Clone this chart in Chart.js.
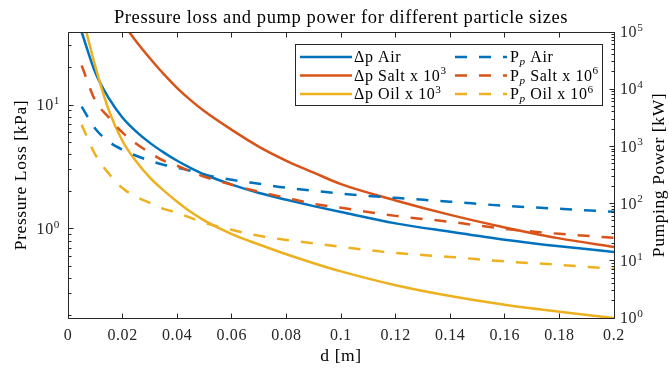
<!DOCTYPE html>
<html>
<head>
<meta charset="utf-8">
<script src="https://cdn.jsdelivr.net/npm/chart.js@4.4.1/dist/chart.umd.min.js"></script>
<style>
  html, body { margin: 0; padding: 0; background: #fff; }
  #wrap { width: 669px; height: 370px; }
</style>
</head>
<body>
<div id="wrap"><canvas id="chart" width="669" height="370"></canvas></div>
<script>
// particle diameter d [m]
const diameters = [0.005, 0.01, 0.015, 0.02, 0.025, 0.03, 0.035, 0.04, 0.045, 0.05,
                   0.06, 0.07, 0.08, 0.09, 0.1, 0.12, 0.14, 0.16, 0.18, 0.2];

// pressure loss [kPa], left axis
const dpAir  = [38.8, 18.3, 11.3, 7.9, 6.1, 4.95, 4.15, 3.55, 3.1, 2.75,
                2.28, 1.95, 1.72, 1.53, 1.37, 1.11, 0.95, 0.82, 0.725, 0.653];
const dpSalt = [null, null, null, 46, 32.5, 23.8, 17.8, 13.7, 10.9, 8.9,
                6.3, 4.6, 3.55, 2.85, 2.3, 1.7, 1.3, 1.03, 0.84, 0.716];
const dpOil  = [55, 20.5, 9.0, 5.1, 3.5, 2.6, 2.05, 1.66, 1.37, 1.17,
                0.91, 0.75, 0.625, 0.53, 0.455, 0.352, 0.288, 0.245, 0.215, 0.1915];

// pumping power [kW], right axis
const ppAir  = [4950, 2040, 1210, 875, 687, 562, 478, 424, 375, 319,
                261, 222, 189, 168, 149, 126, 108, 91.5, 81, 71.8];
const ppSalt = [25900, 6310, 3180, 1740, 1115, 776, 562, 459, 361, 295,
                213, 161, 126, 99, 84.4, 61, 48, 36.2, 29.6, 25.2];
const ppOil  = [2400, 716, 333, 185, 132, 103, 81, 69, 56.4, 46.1,
                34.8, 27.3, 23.2, 20.2, 17.5, 13.7, 11.7, 9.75, 8.5, 7.2];

const serif = "'Liberation Serif', 'DejaVu Serif', serif";
const ink = '#262626';
const BLUE = '#0072BD', ORANGE = '#D95319', YELLOW = '#EDB120';
const DASH = [12, 12];

function series(values) {
  return diameters.map((d, i) => ({ x: d, y: values[i] }));
}

function line(label, values, color, axis, dashed, order) {
  return {
    label: label,
    data: series(values),
    borderColor: color,
    backgroundColor: color,
    borderWidth: 2.5,
    borderDash: dashed ? DASH : [],
    borderCapStyle: 'butt',
    cubicInterpolationMode: 'monotone',
    pointRadius: 0,
    fill: false,
    clip: 0,
    yAxisID: axis,
    order: order
  };
}

// legend text pieces: [text, 'sup' | 'sub' | '']
const legendRuns = [
  [['Δp Air', '']],
  [['Δp Salt x 10', ''], ['3', 'sup']],
  [['Δp Oil x 10', ''], ['3', 'sup']],
  [['P', ''], ['p', 'sub'], [' Air', '']],
  [['P', ''], ['p', 'sub'], [' Salt x 10', ''], ['6', 'sup']],
  [['P', ''], ['p', 'sub'], [' Oil x 10', ''], ['6', 'sup']]
];

function drawRuns(ctx, runs, x, baseline, size) {
  for (const [text, kind] of runs) {
    let fs = size, dy = 0, style = '';
    if (kind === 'sup') { fs = size * 0.7; dy = -size * 0.4; }
    if (kind === 'sub') { fs = size * 0.7; dy = size * 0.17; style = 'italic '; }
    ctx.font = `${style}${fs}px ${serif}`;
    ctx.fillText(text, x, baseline + dy);
    x += ctx.measureText(text).width;
  }
  return x;
}

function logMarks(min, max) {
  const marks = [];
  for (let k = Math.floor(Math.log10(min)); k <= Math.ceil(Math.log10(max)); k++) {
    for (let m = 1; m <= 9; m++) {
      const v = m * Math.pow(10, k);
      if (v >= min * 0.999 && v <= max * 1.001) marks.push({ v: v, major: m === 1, exp: k });
    }
  }
  return marks;
}

function drawPower(ctx, exp, x, y, align) {
  const size = 16;
  ctx.font = `${size}px ${serif}`;
  const wBase = ctx.measureText('10').width;
  ctx.font = `${size * 0.7}px ${serif}`;
  const wExp = ctx.measureText(String(exp)).width;
  const x0 = align === 'right' ? x - wBase - wExp : x;
  const base = y + size * 0.33;
  ctx.textAlign = 'left';
  ctx.textBaseline = 'alphabetic';
  ctx.font = `${size}px ${serif}`;
  ctx.fillText('10', x0, base);
  ctx.font = `${size * 0.7}px ${serif}`;
  ctx.fillText(String(exp), x0 + wBase, base - size * 0.4);
}

const crisp = v => Math.floor(v) + 0.5;

// slightly looser text spacing for every label on the canvas
const textSpacing = {
  id: 'textSpacing',
  beforeDraw(chart) {
    chart.ctx.letterSpacing = '0.6px';
  }
};

// box, inward ticks, log labels, axis titles and legend
const axesFrame = {
  id: 'axesFrame',
  afterDraw(chart) {
    const { ctx, chartArea: a } = chart;
    const { x, yLoss, yPower } = chart.scales;
    const L = crisp(a.left), R = crisp(a.right), T = crisp(a.top), B = crisp(a.bottom);

    ctx.save();
    ctx.strokeStyle = ink;
    ctx.lineWidth = 1;
    ctx.setLineDash([]);
    ctx.beginPath();
    ctx.rect(L, T, R - L, B - T);

    x.ticks.forEach(t => {
      const px = crisp(x.getPixelForValue(t.value));
      ctx.moveTo(px, B); ctx.lineTo(px, B - 5);
      ctx.moveTo(px, T); ctx.lineTo(px, T + 5);
    });
    logMarks(yLoss.min, yLoss.max).forEach(m => {
      const py = crisp(yLoss.getPixelForValue(m.v));
      ctx.moveTo(L, py); ctx.lineTo(L + (m.major ? 5 : 3), py);
    });
    logMarks(yPower.min, yPower.max).forEach(m => {
      const py = crisp(yPower.getPixelForValue(m.v));
      ctx.moveTo(R, py); ctx.lineTo(R - (m.major ? 5 : 3), py);
    });
    ctx.stroke();

    ctx.fillStyle = ink;
    logMarks(yLoss.min, yLoss.max).filter(m => m.major).forEach(m => {
      drawPower(ctx, m.exp, a.left - 8, yLoss.getPixelForValue(m.v), 'right');
    });
    logMarks(yPower.min, yPower.max).filter(m => m.major).forEach(m => {
      drawPower(ctx, m.exp, a.right + 6, yPower.getPixelForValue(m.v), 'left');
    });

    // axis titles
    const midY = (a.top + a.bottom) / 2;
    ctx.fillStyle = '#000';
    ctx.font = `17.5px ${serif}`;
    ctx.textAlign = 'center';
    ctx.textBaseline = 'middle';
    ctx.fillText('d [m]', (a.left + a.right) / 2, 356);
    ctx.save();
    ctx.translate(21, midY);
    ctx.rotate(-Math.PI / 2);
    ctx.fillText('Pressure Loss [kPa]', 0, 0);
    ctx.restore();
    ctx.save();
    ctx.translate(659, midY);
    ctx.rotate(-Math.PI / 2);
    ctx.fillText('Pumping Power [kW]', 0, 0);
    ctx.restore();

    // legend, two columns of three
    const box = { x: 295.5, y: 44.5, w: 307, h: 61 };
    ctx.fillStyle = '#fff';
    ctx.fillRect(box.x, box.y, box.w, box.h);
    ctx.strokeStyle = ink;
    ctx.strokeRect(box.x, box.y, box.w, box.h);
    const rows = [57, 75.5, 94];
    const cols = [{ x0: 300, x1: 352, tx: 354 }, { x0: 455, x1: 507, tx: 510 }];
    chart.data.datasets.forEach((ds, i) => {
      const col = cols[Math.floor(i / 3)];
      const y = rows[i % 3];
      ctx.strokeStyle = ds.borderColor;
      ctx.lineWidth = ds.borderWidth;
      ctx.lineCap = 'butt';
      ctx.setLineDash(ds.borderDash);
      ctx.beginPath();
      ctx.moveTo(col.x0, y);
      ctx.lineTo(col.x1, y);
      ctx.stroke();
      ctx.setLineDash([]);
      ctx.fillStyle = '#000';
      ctx.textAlign = 'left';
      ctx.textBaseline = 'alphabetic';
      drawRuns(ctx, legendRuns[i], col.tx, y + 5.3, 16);
    });
    ctx.restore();
  }
};

new Chart(document.getElementById('chart'), {
  type: 'line',
  data: {
    datasets: [
      line('Δp Air', dpAir, BLUE, 'yLoss', false, 6),
      line('Δp Salt x 10^3', dpSalt, ORANGE, 'yLoss', false, 5),
      line('Δp Oil x 10^3', dpOil, YELLOW, 'yLoss', false, 4),
      line('P_p Air', ppAir, BLUE, 'yPower', true, 3),
      line('P_p Salt x 10^6', ppSalt, ORANGE, 'yPower', true, 2),
      line('P_p Oil x 10^6', ppOil, YELLOW, 'yPower', true, 1)
    ]
  },
  options: {
    responsive: false,
    animation: false,
    devicePixelRatio: 1,
    spanGaps: false,
    layout: { padding: 0 },
    scales: {
      x: {
        type: 'linear',
        min: 0,
        max: 0.2,
        grid: { display: false, drawTicks: false },
        border: { display: false },
        ticks: {
          stepSize: 0.02,
          autoSkip: false,
          maxRotation: 0,
          padding: 8,
          color: ink,
          font: { family: serif, size: 16 },
          callback: v => String(+v.toFixed(2))
        },
        afterFit: s => { s.height = 52; }
      },
      yLoss: {
        type: 'logarithmic',
        position: 'left',
        min: 0.1915,
        max: 38.8,
        grid: { display: false, drawTicks: false },
        border: { display: false },
        ticks: { display: false },
        afterFit: s => { s.width = 68; }
      },
      yPower: {
        type: 'logarithmic',
        position: 'right',
        min: 1,
        max: 100000,
        grid: { display: false, drawTicks: false },
        border: { display: false },
        ticks: { display: false },
        afterFit: s => { s.width = 55; }
      }
    },
    plugins: {
      legend: { display: false },
      tooltip: { enabled: false },
      title: {
        display: true,
        fullSize: false,
        text: 'Pressure loss and pump power for different particle sizes',
        color: '#000',
        font: { family: serif, size: 18.5, weight: 'normal', lineHeight: 1.2 },
        padding: { top: 6.8, bottom: 3.0 }
      }
    }
  },
  plugins: [textSpacing, axesFrame]
});
</script>
</body>
</html>
